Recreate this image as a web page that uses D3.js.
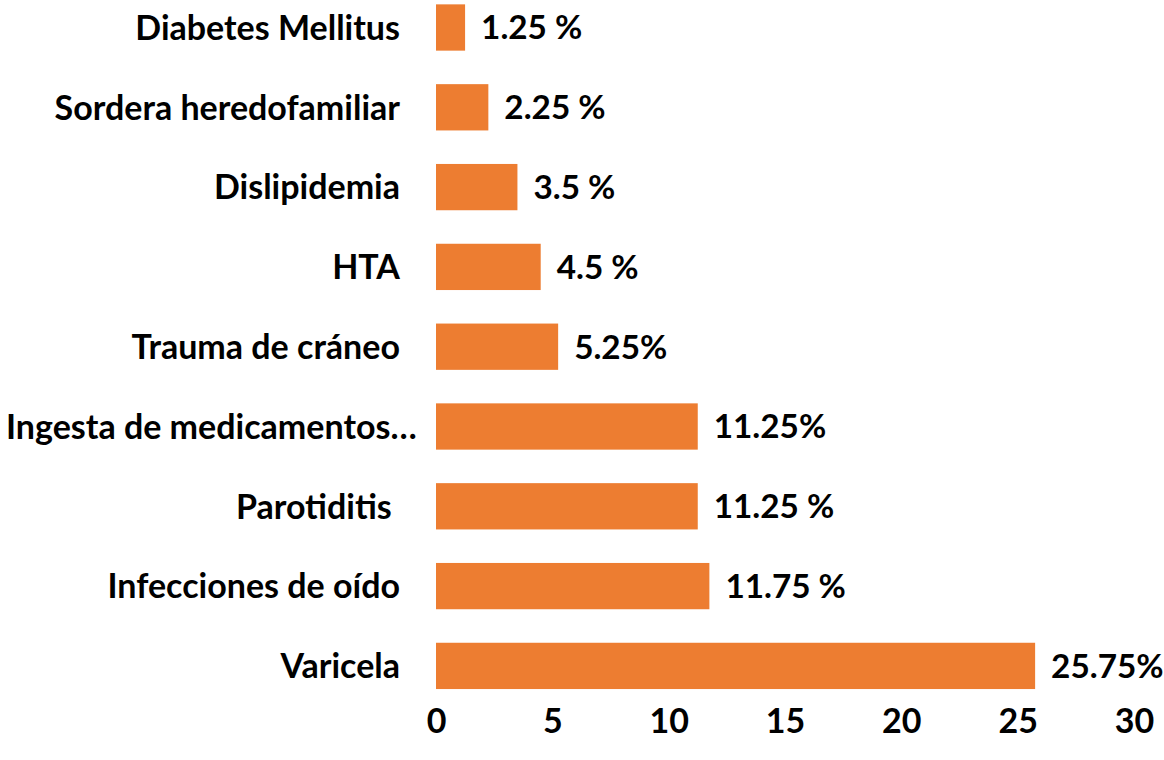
<!DOCTYPE html>
<html>
<head>
<meta charset="utf-8">
<script src="https://cdn.jsdelivr.net/npm/d3@7"></script>
<style>
  html, body { margin: 0; padding: 0; background: #fff; }
  svg text { font-family: Lato, "Open Sans", sans-serif; font-weight: 700; fill: #000; }
</style>
</head>
<body>
<svg id="chart" width="1164" height="760"></svg>
<script>
const categories = ["Diabetes Mellitus", "Sordera heredofamiliar", "Dislipidemia", "HTA", "Trauma de cráneo", "Ingesta de medicamentos…", "Parotiditis ", "Infecciones de oído", "Varicela"];
const values = [1.25, 2.25, 3.5, 4.5, 5.25, 11.25, 11.25, 11.75, 25.75];
const valueLabels = ["1.25 %", "2.25 %", "3.5 %", "4.5 %", "5.25%", "11.25%", "11.25 %", "11.75 %", "25.75%"];
const tickValues = [0, 5, 10, 15, 20, 25, 30];

const svg = d3.select("#chart");
const fontSize = 34;
const valueFontSize = 33.3;

const x = d3.scaleLinear().domain([0, 30]).range([436, 1134]);
const y = d3.scaleBand().domain(categories).range([-12.4, 705.8]).paddingInner(0.42).paddingOuter(0.21);

const data = categories.map((c, i) => ({ cat: c, v: values[i], lab: valueLabels[i] }));

svg.append("g").selectAll("rect").data(data).join("rect")
  .attr("x", x(0))
  .attr("y", d => y(d.cat))
  .attr("width", d => x(d.v) - x(0))
  .attr("height", y.bandwidth())
  .attr("fill", "#ED7D31");

svg.append("g").selectAll("text").data(data).join("text")
  .attr("x", d => x(d.v) + 16)
  .attr("y", d => y(d.cat) + y.bandwidth() / 2)
  .attr("dy", "0.36em")
  .attr("font-size", valueFontSize)
  .text(d => d.lab);

const catLabels = svg.append("g").selectAll("text").data(data).join("text")
  .attr("x", 400)
  .attr("y", d => y(d.cat) + y.bandwidth() / 2)
  .attr("dy", "0.36em")
  .attr("text-anchor", "end")
  .attr("font-size", fontSize)
  .style("white-space", "pre")
  .text(d => d.cat);

// labels too long for the label area start at the left edge
catLabels.each(function() {
  const w = this.getComputedTextLength();
  if (w > 395) d3.select(this).attr("text-anchor", "start").attr("x", 6);
});

const xAxis = d3.axisBottom(x).tickValues(tickValues).tickSize(0).tickPadding(0).tickFormat(d3.format("d"));
const gx = svg.append("g").attr("transform", "translate(0,733)").call(xAxis);
gx.select(".domain").remove();
gx.selectAll("text").attr("font-size", fontSize).attr("dy", "0")
  .style("font-family", "Lato, sans-serif").style("font-weight", 700).attr("fill", "#000");
</script>
</body>
</html>
